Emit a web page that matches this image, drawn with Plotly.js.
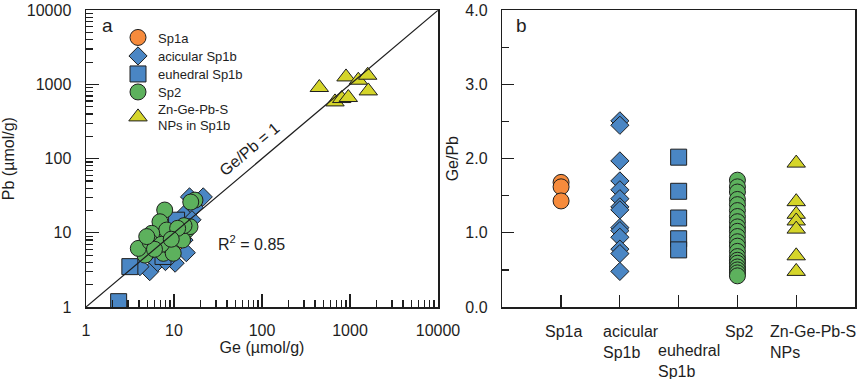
<!DOCTYPE html>
<html>
<head>
<meta charset="utf-8">
<script src="https://cdn.plot.ly/plotly-3.0.1.min.js"></script>
<style>html,body{margin:0;padding:0;background:#fff;}#chart{width:865px;height:379px;}</style>
</head>
<body>
<div id="chart"></div>
<script>
// ---------- Panel a: Ge vs Pb (µmol/g) ----------
const sp1aGe = [9.6, 10.5, 11.2];
const sp1aPb = [6.6, 6.4, 6.9];

const acicGe = [15.0, 21.5, 13.5, 17.0, 11.5, 16.0, 12.0, 10.0, 7.0, 13.0, 5.3, 6.5, 13.8, 10.3, 8.0, 4.1];
const acicPb = [30.5, 30.5, 18.5, 22.0, 12.0, 15.0, 9.0, 7.5, 5.0, 8.0, 3.0, 4.0, 5.4, 3.9, 4.1, 3.5];

const euhGe = [2.35, 3.15, 7.5, 10.7, 12.5];
const euhPb = [1.18, 3.5, 4.8, 14.8, 10.5];

const sp2Ge = [7.84, 6.93, 17.3, 15.5, 6.36, 4.48, 4.68, 3.93, 7.57, 11.7, 10.3, 13.9, 15.2, 8.26, 5.58, 9.0, 5.34, 9.8, 12.5, 13.0, 7.2, 6.0, 11.0, 9.3, 4.9];
const sp2Pb = [20.3, 14.1, 27.6, 26.0, 8.85, 6.49, 5.01, 6.17, 5.29, 8.85, 9.84, 10.9, 12.1, 10.9, 9.84, 6.49, 7.58, 5.3, 8.0, 12.5, 7.0, 6.0, 11.5, 8.2, 8.9];

const npGe = [448, 901, 1243, 1589, 1614, 675, 805, 957];
const npPb = [910, 1264, 1141, 1333, 819, 582, 646, 667];

const oneToOne = [1, 10000];
const logTickVals = [1, 10, 100, 1000, 10000];
const logTickText = ['1', '10', '100', '1000', '10000'];
const minorDigits = [2, 3, 4, 5, 6, 7, 8, 9];

// ---------- Panel b: Ge/Pb ratios ----------
const categories = ['Sp1a', 'acicular<br>Sp1b', 'euhedral<br>Sp1b', 'Sp2', 'Zn-Ge-Pb-S<br>NPs'];
const sp1aRatio = [1.68, 1.62, 1.43];
const acicRatio = [2.51, 2.45, 1.97, 1.70, 1.58, 1.46, 1.35, 1.31, 1.07, 1.03, 0.94, 0.78, 0.72, 0.48];
const euhRatio = [2.02, 1.56, 1.20, 0.92, 0.77];
const sp2Ratio = [1.71, 1.62, 1.55, 1.45, 1.38, 1.30, 1.22, 1.15, 1.08, 1.02, 0.95, 0.88, 0.82, 0.75, 0.68, 0.63, 0.59, 0.54, 0.50, 0.46, 0.42];
const npRatio = [1.94, 1.42, 1.25, 1.16, 1.05, 0.69, 0.48];
const ratioMajor = [0, 1, 2, 3, 4];
const ratioMinor = [0.5, 1.5, 2.5, 3.5];

// ---------- styles ----------
const FONT = 'Arial, "Liberation Sans", sans-serif';
const INK = '#1e1e1e';
const C_OR = '#F68B3C', C_BL = '#4A86C4', C_GR = '#5DB15D', C_YE = '#D5D52A';
const outline = {color: INK, width: 1};

const groups = [
  {name: 'Sp1a', ge: sp1aGe, pb: sp1aPb, ratio: sp1aRatio, sym: 'circle', color: C_OR, sa: 16, sb: 16},
  {name: 'acicular Sp1b', ge: acicGe, pb: acicPb, ratio: acicRatio, sym: 'diamond', color: C_BL, sa: 14, sb: 14},
  {name: 'euhedral Sp1b', ge: euhGe, pb: euhPb, ratio: euhRatio, sym: 'square', color: C_BL, sa: 16, sb: 16},
  {name: 'Sp2', ge: sp2Ge, pb: sp2Pb, ratio: sp2Ratio, sym: 'circle', color: C_GR, sa: 16, sb: 16},
  {name: 'Zn-Ge-Pb-S<br>NPs in Sp1b', ge: npGe, pb: npPb, ratio: npRatio, sym: 'triangle-up', color: C_YE, sa: 16, sb: 16}
];
const legendIds = ['legend', 'legend2', 'legend3', 'legend4', 'legend5'];
const legendCenters = [37.5, 56, 74, 92, 117];

const traces = [];
groups.forEach((g, i) => {
  traces.push({
    type: 'scatter', mode: 'markers', x: g.ge, y: g.pb, name: g.name, legend: legendIds[i],
    xaxis: 'x', yaxis: 'y', showlegend: true,
    marker: {symbol: g.sym, size: g.sa, color: g.color, line: outline}
  });
});
traces.push({
  type: 'scatter', mode: 'lines', x: oneToOne, y: oneToOne, xaxis: 'x', yaxis: 'y',
  line: {color: INK, width: 1.2}, showlegend: false, hoverinfo: 'skip'
});
groups.forEach((g, i) => {
  traces.push({
    type: 'scatter', mode: 'markers', x: g.ratio.map(() => i + 1), y: g.ratio, name: g.name,
    xaxis: 'x2', yaxis: 'y2', showlegend: false,
    marker: {symbol: g.sym, size: g.sb, color: g.color, line: outline}
  });
});

const minorLog = [];
logTickVals.slice(0, 4).forEach(d => minorDigits.forEach(k => minorLog.push(d * k)));

const W = 865, H = 379;
const px = v => v / W, py = v => (H - v) / H;
const yDom = [py(307), py(10.3)];

const axBase = {
  showline: true, mirror: true, linecolor: INK, linewidth: 1.5,
  showgrid: false, zeroline: false, ticks: 'inside', tickcolor: INK, tickwidth: 1.2,
  tickfont: {family: FONT, size: 16, color: INK}
};
const minorCfg = v => ({ticks: 'inside', ticklen: 7, tickwidth: 1.2, tickcolor: INK, tickmode: 'array', tickvals: v, showgrid: false});

const catShift = [-18, -19, -23, -14, -28];
const catYShift = [0, 0, -19, 0, 0];
const txt = (text, x, y, extra) => Object.assign({
  text: text, xref: 'paper', yref: 'paper', x: px(x), y: py(y), xanchor: 'center', yanchor: 'middle',
  showarrow: false, font: {family: FONT, size: 16, color: INK}
}, extra || {});
const annotations = [
  txt('a', 107.5, 26, {font: {family: FONT, size: 19, color: INK}}),
  txt('b', 521.5, 26, {font: {family: FONT, size: 19, color: INK}}),
  txt('R<sup>2</sup> = 0.85', 251, 243),
  txt('Ge/Pb = 1', 249, 149, {textangle: -40})
];
categories.forEach((c, i) => {
  annotations.push({
    text: c, xref: 'x2', yref: 'paper', x: i + 1, y: py(321), xanchor: 'left', yanchor: 'top',
    align: 'left', xshift: catShift[i], yshift: catYShift[i], showarrow: false,
    font: {family: FONT, size: 16, color: INK}
  });
});

const layout = {
  width: W, height: H, margin: {l: 0, r: 0, t: 0, b: 0},
  paper_bgcolor: '#fff', plot_bgcolor: '#fff',
  font: {family: FONT, size: 16, color: INK},
  showlegend: true,
  xaxis: Object.assign({}, axBase, {
    domain: [px(86), px(438)], anchor: 'y', type: 'log', range: [0, 4],
    tickvals: logTickVals, ticktext: logTickText, ticklen: 13, ticklabelstandoff: 8,
    minor: minorCfg(minorLog),
    title: {text: 'Ge (µmol/g)', font: {family: FONT, size: 16, color: INK}, standoff: 1}
  }),
  yaxis: Object.assign({}, axBase, {
    domain: yDom, anchor: 'x', type: 'log', range: [0, 4],
    tickvals: logTickVals, ticktext: logTickText, ticklen: 13, ticklabelstandoff: 10,
    minor: minorCfg(minorLog),
    title: {text: 'Pb (µmol/g)', font: {family: FONT, size: 16, color: INK}, standoff: 8}
  }),
  xaxis2: Object.assign({}, axBase, {
    domain: [px(502.3), px(855)], anchor: 'y2', range: [0, 6],
    tickvals: [1, 2, 3, 4, 5], showticklabels: false, ticklen: 12
  }),
  yaxis2: Object.assign({}, axBase, {
    domain: yDom, anchor: 'x2', range: [0, 4], tickvals: ratioMajor, tickformat: '.1f',
    ticklen: 12, ticklabelstandoff: 10,
    minor: minorCfg(ratioMinor),
    title: {text: 'Ge/Pb', font: {family: FONT, size: 16, color: INK}, standoff: 2}
  }),
  annotations: annotations
};
legendIds.forEach((id, i) => {
  layout[id] = {
    x: px(118), y: py(legendCenters[i]), xanchor: 'left', yanchor: 'middle',
    bgcolor: 'rgba(0,0,0,0)', borderwidth: 0,
    font: {family: FONT, size: 13, color: INK}, itemsizing: 'trace'
  };
});

Plotly.newPlot('chart', traces, layout, {displayModeBar: false, staticPlot: true});
</script>
</body>
</html>
